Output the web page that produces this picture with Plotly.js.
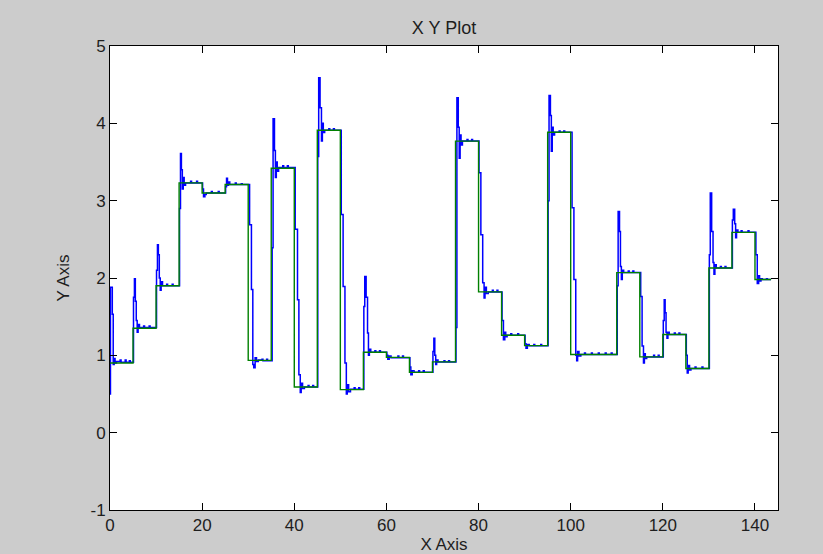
<!DOCTYPE html>
<html>
<head>
<meta charset="utf-8">
<script src="https://cdn.plot.ly/plotly-3.0.1.min.js"></script>
<style>
  html, body { margin: 0; padding: 0; background: #cccccc; }
  #chart { width: 823px; height: 554px; }
</style>
</head>
<body>
<div id="chart"></div>
<script>
// Setpoint (green step line): switch times and levels
const setX = [0, 5, 10, 15, 20, 25, 30, 35, 40, 45, 50, 55, 60, 65, 70, 75, 80, 85, 90, 95, 100, 105, 110, 115, 120, 125, 130, 135, 140, 143.5];
const setY = [0.9, 1.35, 1.9, 3.23, 3.1, 3.21, 0.935, 3.42, 0.59, 3.91, 0.556, 1.04, 0.974, 0.78, 0.915, 3.77, 1.82, 1.26, 1.125, 3.885, 1.01, 1.01, 2.07, 0.98, 1.27, 0.83, 2.13, 2.59, 1.98, 1.98];

const respX = [
  0, 0.1, 0.5, 0.7, 0.9, 1.1, 1.4, 2.2, 2.4, 3.3, 3.5, 4.2, 4.4,
  5.1, 5.3, 5.5, 5.7, 5.9, 6.1, 6.4, 7.3, 7.5, 8.5, 8.7,
  10.1, 10.3, 10.5, 10.7, 10.9, 11.1, 11.4, 12.3, 12.5, 13.5, 13.7,
  15.1, 15.3, 15.5, 15.7, 15.9, 16.1, 16.4, 17.5, 17.7, 18.8, 19,
  20.1, 20.3, 20.6, 20.9, 22, 22.2, 23.5, 23.7,
  25.1, 25.3, 25.5, 25.7, 26, 27.2, 27.4, 28.5, 28.7,
  30.3, 30.7, 31.0, 31.2, 31.5, 31.8, 32.2, 33, 33.2, 34, 34.2,
  35.2, 35.4, 35.7, 35.9, 36.1, 36.3, 36.6, 37.5, 37.7, 38.5, 38.7,
  40.2, 40.7, 41.0, 41.3, 41.5, 41.8, 42.2, 43, 43.2, 44, 44.2,
  45.1, 45.3, 45.6, 45.9, 46.1, 46.3, 46.6, 47.5, 47.7, 48.5, 48.7,
  50.2, 50.6, 51.0, 51.3, 51.5, 51.8, 52.2, 53, 53.2, 54, 54.2,
  55.1, 55.3, 55.6, 55.9, 56.1, 56.3, 56.6, 57.5, 57.7, 58.5, 58.7,
  60.1, 60.3, 60.6, 61, 62.5, 62.7, 63.5, 63.7,
  65.1, 65.3, 65.6, 66, 67, 67.2, 68, 68.2,
  70.1, 70.3, 70.5, 70.7, 70.9, 71.2, 72.5, 72.7, 73.5, 73.7,
  75.1, 75.3, 75.6, 75.8, 76.0, 76.2, 76.5, 77.5, 77.7, 78.5, 78.7,
  80.1, 80.5, 80.9, 81.2, 81.4, 81.7, 82.1, 83, 83.2, 84, 84.2,
  85.1, 85.4, 85.7, 85.9, 86.2, 87, 87.2, 88.5, 88.7,
  90.1, 90.3, 90.6, 91, 92, 92.2, 93.5, 93.7,
  95.1, 95.3, 95.6, 95.8, 96.0, 96.2, 96.5, 97.5, 97.7, 98.5, 98.7,
  100.3, 100.7, 101.1, 101.3, 101.5, 101.8, 102.2, 103, 103.2, 104.5, 104.7, 106, 106.2, 107.5, 107.7, 108.8, 109,
  110.1, 110.3, 110.6, 110.8, 111.0, 111.2, 111.5, 112.5, 112.7, 113.5, 113.7,
  115.2, 115.5, 115.8, 116.0, 116.2, 116.5, 116.9, 118, 118.2, 119, 119.2,
  120.1, 120.3, 120.5, 120.7, 120.9, 121.1, 121.4, 122.5, 122.7, 123.5, 123.7,
  125.1, 125.3, 125.5, 125.8, 126.1, 127, 127.2, 128.5, 128.7,
  130.1, 130.3, 130.6, 130.9, 131.1, 131.3, 131.6, 132.5, 132.7, 133.5, 133.7,
  135.1, 135.3, 135.6, 135.8, 136.0, 136.3, 137, 137.2, 138.5, 138.7,
  140.2, 140.5, 140.8, 141.0, 141.3, 141.6, 142.5, 142.7, 143.5
];
const respY = [
  0.5, 1.88, 1.53, 0.88, 0.96, 0.9, 0.92, 0.94, 0.91, 0.94, 0.91, 0.93, 0.91,
  1.75, 1.99, 1.7, 1.45, 1.3, 1.4, 1.36, 1.38, 1.36, 1.38, 1.36,
  2.1, 2.43, 2.3, 2.0, 1.84, 1.95, 1.9, 1.92, 1.9, 1.92, 1.9,
  2.9, 3.61, 3.4, 3.15, 3.3, 3.2, 3.23, 3.25, 3.23, 3.25, 3.23,
  3.15, 3.05, 3.08, 3.1, 3.12, 3.1, 3.12, 3.1,
  3.18, 3.29, 3.2, 3.24, 3.21, 3.23, 3.21, 3.22, 3.21,
  2.69, 1.85, 0.88, 0.84, 0.97, 0.92, 0.94, 0.95, 0.93, 0.95, 0.93,
  2.39, 4.06, 3.65, 3.3, 3.5, 3.38, 3.43, 3.45, 3.43, 3.45, 3.43,
  2.63, 1.72, 0.75, 0.52, 0.64, 0.57, 0.59, 0.61, 0.59, 0.61, 0.59,
  3.57, 4.59, 4.2, 3.77, 4.0, 3.88, 3.91, 3.93, 3.91, 3.93, 3.91,
  2.82, 1.89, 0.9, 0.5, 0.62, 0.53, 0.56, 0.58, 0.56, 0.58, 0.56,
  1.63, 2.02, 1.75, 1.29, 1.0, 1.08, 1.04, 1.06, 1.04, 1.06, 1.04,
  1.0, 0.95, 0.99, 0.97, 0.99, 0.97, 0.99, 0.97,
  0.85, 0.75, 0.8, 0.78, 0.8, 0.78, 0.8, 0.78,
  1.05, 1.22, 1.0, 0.88, 0.94, 0.915, 0.93, 0.915, 0.93, 0.915,
  1.36, 4.33, 3.95, 3.55, 3.85, 3.72, 3.77, 3.79, 3.77, 3.79, 3.77,
  3.36, 2.56, 1.94, 1.74, 1.88, 1.8, 1.82, 1.84, 1.82, 1.84, 1.82,
  1.45, 1.2, 1.3, 1.24, 1.26, 1.28, 1.26, 1.28, 1.26,
  1.15, 1.09, 1.14, 1.125, 1.14, 1.125, 1.14, 1.125,
  3.0, 4.36, 4.1, 3.64, 3.95, 3.85, 3.885, 3.9, 3.885, 3.9, 3.885,
  2.91, 1.98, 1.0, 0.93, 1.05, 0.99, 1.01, 1.03, 1.01, 1.03, 1.01, 1.03, 1.01, 1.03, 1.01, 1.03, 1.01,
  1.9, 2.86, 2.6, 2.15, 1.98, 2.1, 2.07, 2.09, 2.07, 2.09, 2.07,
  1.76, 1.12, 0.9, 1.02, 0.96, 0.98, 0.98, 1.0, 0.98, 1.0, 0.98,
  1.45, 1.72, 1.55, 1.3, 1.22, 1.3, 1.27, 1.29, 1.27, 1.29, 1.27,
  1.0, 0.77, 0.87, 0.81, 0.83, 0.85, 0.83, 0.85, 0.83,
  2.3, 3.1, 2.6, 2.2, 2.05, 2.17, 2.13, 2.15, 2.13, 2.15, 2.13,
  2.75, 2.89, 2.7, 2.52, 2.62, 2.59, 2.61, 2.59, 2.61, 2.59,
  2.3, 1.93, 2.03, 1.96, 1.99, 1.98, 1.99, 1.98, 1.98
];

const xTicks = [0, 20, 40, 60, 80, 100, 120, 140];
const yTicks = [-1, 0, 1, 2, 3, 4, 5];

const FONT = 'Liberation Sans, Arial, sans-serif';
const TXT = '#1e1e1e';

const traces = [
  {
    x: respX, y: respY, type: 'scatter', mode: 'lines',
    line: { color: '#0000ff', width: 1.5, shape: 'hv' },
    hoverinfo: 'skip', showlegend: false
  },
  {
    x: setX, y: setY, type: 'scatter', mode: 'lines',
    line: { color: '#008000', width: 1.4, shape: 'hv' },
    hoverinfo: 'skip', showlegend: false
  }
];

const axisCommon = {
  showgrid: false, zeroline: false,
  showline: true, linecolor: '#000000', linewidth: 1,
  mirror: 'ticks', ticks: 'inside', ticklen: 7, tickwidth: 1, tickcolor: '#000000',
  tickfont: { family: FONT, size: 17, color: TXT },
  tickmode: 'array'
};

const layout = {
  width: 823, height: 554,
  paper_bgcolor: '#cccccc', plot_bgcolor: '#ffffff',
  margin: { l: 110, r: 45, t: 46, b: 44 },
  showlegend: false,
  title: {
    text: 'X Y Plot', font: { family: FONT, size: 18, color: TXT },
    x: 0.5, xref: 'paper', xanchor: 'center',
    y: 1 - 28 / 554, yref: 'container', yanchor: 'middle'
  },
  xaxis: Object.assign({}, axisCommon, {
    range: [0, 145], tickvals: xTicks, ticktext: xTicks.map(String),
    title: { text: 'X Axis', font: { family: FONT, size: 17, color: TXT }, standoff: 4 }
  }),
  yaxis: Object.assign({}, axisCommon, {
    range: [-1, 5], tickvals: yTicks, ticktext: yTicks.map(String),
    title: { text: 'Y Axis', font: { family: FONT, size: 17, color: TXT }, standoff: 16 }
  })
};

Plotly.newPlot('chart', traces, layout, { staticPlot: true, displayModeBar: false });
</script>
</body>
</html>
